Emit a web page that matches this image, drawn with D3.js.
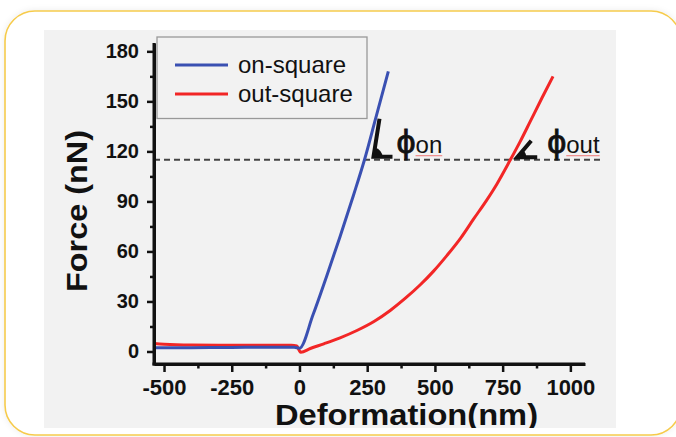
<!DOCTYPE html>
<html><head><meta charset="utf-8">
<script src="https://cdn.jsdelivr.net/npm/d3@7"></script>
<style>
html,body{margin:0;padding:0;background:#fff;}
svg{display:block;}
</style></head>
<body>
<svg id="chart" width="676" height="437"></svg>
<script>
// ---- data ----
const seriesNames = ["on-square", "out-square"];
const onX = [-537, -400, -300, -200, -100, -20, 0, 50, 100, 150, 200, 240, 280, 328];
const onY = [2.2, 2.3, 2.4, 2.5, 2.6, 2.5, 2.0, 22, 45, 69, 94, 115, 139, 168];
const outX = [-537, -500, -400, -300, -200, -100, -30, -10, 0, 5, 40, 90, 150, 212, 275, 335, 390, 446, 495, 544, 595, 643, 690, 729, 778, 815, 852, 895, 936];
const outY = [4.8, 4.4, 3.9, 3.8, 3.8, 3.8, 3.8, 3.3, 0.4, -0.5, 1.8, 4.6, 8.2, 12.6, 18.0, 24.6, 31.8, 40.0, 48.2, 57.5, 68.0, 79.5, 90.5, 100.5, 114.8, 126.0, 138.0, 152.0, 165.0];
const xTicks = [-500, -250, 0, 250, 500, 750, 1000];
const xMinor = [-375, -125, 125, 375, 625, 875];
const yTicks = [0, 30, 60, 90, 120, 150, 180];
const yMinor = [15, 45, 75, 105, 135, 165];
const refForce = 115;
const refX = [-537, 1110];
const phiOnX = 240, phiOutX = 778;
const xTitle = "Deformation(nm)";
const yTitle = "Force (nN)";

// ---- setup ----
const svg = d3.select("#chart");
const defs = svg.append("defs");
const f = defs.append("filter").attr("id","sh").attr("x","-5%").attr("y","-5%").attr("width","110%").attr("height","110%");
f.append("feDropShadow").attr("dx",0).attr("dy",0).attr("stdDeviation",3).attr("flood-color","#000").attr("flood-opacity",0.08);
defs.append("clipPath").attr("id","panel").append("rect").attr("x",44).attr("y",30).attr("width",572).attr("height",398);

svg.append("rect").attr("x",5).attr("y",11).attr("width",676).attr("height",424).attr("rx",30)
  .attr("fill","#fff").attr("stroke","#f6cb4c").attr("stroke-width",1.6).attr("filter","url(#sh)");

const g = svg.append("g").attr("clip-path","url(#panel)");
g.append("rect").attr("x",44).attr("y",30).attr("width",572).attr("height",398).attr("fill","#f2f2f2");

const x = d3.scaleLinear().domain([-537, 1054]).range([154, 585]);
const y = d3.scaleLinear().domain([-7.5, 185]).range([364, 43]);

const colors = {"on-square":"#3a50b2","out-square":"#f22626"};

// reference dashed line
g.append("line").attr("x1",x(refX[0])).attr("x2",x(refX[1])).attr("y1",y(refForce)).attr("y2",y(refForce))
  .attr("stroke","#444").attr("stroke-width",2).attr("stroke-dasharray","6,4");

// curves
const line = d3.line().x(d=>x(d[0])).y(d=>y(d[1])).curve(d3.curveMonotoneX);
const outData = outX.map((v,i)=>[v,outY[i]]);
const onData = onX.map((v,i)=>[v,onY[i]]);
g.append("path").datum(outData).attr("d",line).attr("fill","none").attr("stroke",colors["out-square"]).attr("stroke-width",3).attr("stroke-linejoin","round");
g.append("path").datum(onData).attr("d",line).attr("fill","none").attr("stroke",colors["on-square"]).attr("stroke-width",3).attr("stroke-linejoin","round");

// axes
const fontB = "'Liberation Sans', Arial, sans-serif";
const fmt = d => String(d);
const xa = g.append("g").attr("transform",`translate(0,${y.range()[0]})`)
  .call(d3.axisBottom(x).tickValues(xTicks).tickSize(8).tickSizeOuter(0).tickPadding(7).tickFormat(fmt));
const xm = g.append("g").attr("transform",`translate(0,${y.range()[0]})`)
  .call(d3.axisBottom(x).tickValues(xMinor).tickSize(4.5).tickSizeOuter(0).tickFormat(""));
const ya = g.append("g").attr("transform",`translate(${x.range()[0]},0)`)
  .call(d3.axisLeft(y).tickValues(yTicks).tickSize(7).tickSizeOuter(0).tickPadding(8).tickFormat(fmt));
const ym = g.append("g").attr("transform",`translate(${x.range()[0]},0)`)
  .call(d3.axisLeft(y).tickValues(yMinor).tickSize(4).tickSizeOuter(0).tickFormat(""));
[xa,xm,ya,ym].forEach(a=>{
  a.select(".domain").attr("stroke","#111").attr("stroke-width",3);
  a.selectAll(".tick line").attr("stroke","#111").attr("stroke-width",2.5);
});
xa.select(".domain").attr("d",`M${x.range()[0]-1.5},0H${x.range()[1]}`);
ya.select(".domain").attr("d",`M0,${y.range()[0]+1.5}V${y.range()[1]}`);
xa.selectAll(".tick text").attr("font-family",fontB).attr("font-weight","bold").attr("font-size",22).attr("fill","#111");
ya.selectAll(".tick text").attr("font-family",fontB).attr("font-weight","bold").attr("font-size",20).attr("fill","#111");

// axis titles
g.append("text").attr("x",406.5).attr("y",425).attr("text-anchor","middle")
  .attr("font-family",fontB).attr("font-weight","bold").attr("font-size",30).attr("fill","#111")
  .attr("textLength",263).attr("lengthAdjust","spacingAndGlyphs").text(xTitle);
g.append("text").attr("transform","translate(87,211) rotate(-90)").attr("text-anchor","middle")
  .attr("font-family",fontB).attr("font-weight","bold").attr("font-size",30).attr("fill","#111")
  .attr("textLength",162).attr("lengthAdjust","spacingAndGlyphs").text(yTitle);

// legend
const lg = g.append("g");
lg.append("rect").attr("x",157).attr("y",37).attr("width",210).attr("height",81.5)
  .attr("fill","#f2f2f2").attr("stroke","#999").attr("stroke-width",1.3);
seriesNames.forEach((s,i)=>{
  const yy = 65 + i*29;
  lg.append("line").attr("x1",175).attr("x2",228).attr("y1",yy).attr("y2",yy).attr("stroke",colors[s]).attr("stroke-width",3);
  lg.append("text").attr("x",238).attr("y",yy+8).attr("font-family",fontB).attr("font-size",24).attr("fill","#111").text(s);
});

// phi annotations
function angleMark(cx, cy, ax, ay, bx) {
  const a = g.append("g");
  const r = 9;
  const len = Math.hypot(ax-cx, ay-cy);
  const ux = (ax-cx)/len, uy = (ay-cy)/len;
  a.append("path").attr("d",`M${cx},${cy}L${cx+ux*r},${cy+uy*r}A${r},${r} 0 0 1 ${cx+r},${cy}Z`).attr("fill","#111");
  a.append("path").attr("d",`M${ax},${ay}L${cx},${cy}L${bx},${cy}`).attr("fill","none").attr("stroke","#111").attr("stroke-width",4).attr("stroke-linejoin","miter");
}
const yRef = y(refForce);
angleMark(x(phiOnX)+9, yRef-3, x(phiOnX)+15, yRef-41, x(phiOnX)+28);
angleMark(x(phiOutX)+7, yRef-2.5, x(phiOutX)+21, yRef-19, x(phiOutX)+27);

function phiLabel(px, sub) {
  const t = g.append("text").attr("x",px).attr("y",yRef-7).attr("fill","#111");
  t.append("tspan").attr("font-family",fontB).attr("font-size",34)
    .attr("stroke","#111").attr("stroke-width",0.8).text("\u03D5");
  const s = t.append("tspan").attr("dx",0).attr("font-family",fontB).attr("font-size",24).text(sub);
  const node = t.node();
  const n = node.getNumberOfChars();
  const start = node.getStartPositionOfChar(1).x;
  const end = node.getEndPositionOfChar(n-1).x;
  g.append("line").attr("x1",start).attr("x2",end).attr("y1",yRef-4).attr("y2",yRef-4).attr("stroke","#e77").attr("stroke-width",1);
}
phiLabel(x(phiOnX)+32, "on");
phiLabel(x(phiOutX)+37, "out");
</script>
</body></html>
